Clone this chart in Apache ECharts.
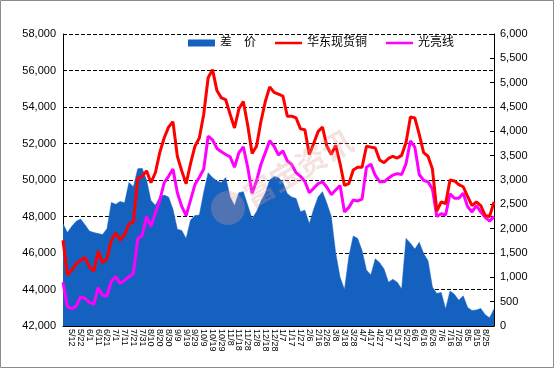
<!DOCTYPE html>
<html><head><meta charset="utf-8">
<script src="https://cdn.jsdelivr.net/npm/echarts@6/dist/echarts.min.js"></script>
<style>html,body{margin:0;padding:0;background:#fff}#c{width:555px;height:369px}</style>
</head><body><div id="c"></div>
<script>
const categories = ['5/2','5/7','5/12','5/17','5/22','5/27','6/1','6/6','6/11','6/16',
 '6/21','6/26','7/1','7/6','7/11','7/16','7/21','7/26','7/31','8/5',
 '8/10','8/15','8/20','8/25','8/30','9/4','9/9','9/14','9/19','9/24',
 '9/29','10/4','10/9','10/14','10/19','10/24','10/29','11/3','11/8','11/13',
 '11/18','11/23','11/28','12/3','12/8','12/13','12/18','12/23','12/28','1/2',
 '1/7','1/12','1/17','1/22','1/27','2/1','2/6','2/11','2/16','2/21',
 '2/26','3/3','3/8','3/13','3/18','3/23','3/28','4/2','4/7','4/12',
 '4/17','4/22','4/27','5/2','5/7','5/12','5/17','5/22','5/27','6/1',
 '6/6','6/11','6/16','6/21','6/26','7/1','7/6','7/11','7/16','7/21',
 '7/26','7/31','8/5','8/10','8/15','8/20','8/25','8/30','9/4'];

const spread = [2100,1920,2050,2150,2200,2080,1950,1920,1900,1880,
 2000,2540,2500,2560,2530,2950,2860,3230,3240,3000,
 2580,2480,2650,2690,2650,2400,1990,1960,1800,2180,
 2270,2280,2750,3150,3050,2980,2950,3050,2650,2470,
 2740,2760,2480,2210,2350,2560,2730,3000,3070,3050,
 2950,2720,2650,2620,2350,2380,2100,2400,2650,2760,
 2520,2250,1500,1000,750,1430,1850,1800,1550,1150,
 1050,1380,1300,1170,900,960,900,760,1800,1700,
 1580,1720,1490,1340,800,670,690,350,720,650,
 530,620,380,320,330,360,230,170,350];

const copperEast = [46700,44800,45070,45400,45600,45750,45250,45000,46100,45450,
 45700,46700,47100,46700,47000,47600,47700,50100,50200,50500,
 49850,50400,51500,52300,52900,53200,51300,50500,49800,50900,
 51850,52300,53600,55600,56050,54900,54500,54400,53600,52850,
 53900,54300,53000,51450,51850,53200,54300,55100,54800,54700,
 54600,53500,53500,53400,52800,52750,51400,52000,52650,52900,
 51850,51400,51900,50900,49700,49800,50550,50700,50700,51850,
 51800,51750,51100,50950,51180,51300,51200,51350,52050,53450,
 53400,52500,51500,51300,50600,48300,48800,48700,50000,49950,
 49750,49630,49100,48600,48800,48600,48050,48000,48800];

const brightWire = [44400,43050,42950,43100,43580,43520,43300,43180,44100,43680,
 43650,44450,44700,44340,44500,44700,44880,46800,46950,48000,
 47450,48200,48880,49850,50200,50600,49300,48550,48050,48900,
 49750,50150,50600,52400,52200,51730,51550,51400,51270,50700,
 51500,51820,50700,49270,49950,50850,51500,52150,51850,51370,
 51600,51050,50850,50400,50200,49920,49300,49550,49800,49900,
 49600,49200,49450,49700,48250,48500,48900,48850,48950,50700,
 50870,50250,49910,49900,50100,50270,50350,50300,50900,52150,
 51800,50300,49980,49900,49500,48000,48150,48080,49250,49000,
 49000,49270,48540,48250,48600,48250,47950,47750,47990];

const seriesNames = ['差　价', '华东现货铜', '光亮线'];
const leftAxisRange = [42000, 58000, 2000];
const rightAxisRange = [0, 6000, 500];

const FONT = '"Liberation Sans", Arial, "Noto Sans CJK SC", sans-serif';
const LINE_ICON = 'path://M0,0L0.01,0L0.01,0.01Z M0,2.2L27,2.2L27,4.8L0,4.8Z M26.99,7L27,7L27,6.99Z';
const chart = echarts.init(document.getElementById('c'), null, {renderer: 'canvas'});
chart.setOption({
  animation: false,
  backgroundColor: '#fff',
  textStyle: {fontFamily: FONT, color: '#000'},
  grid: {left: 63, right: 61, top: 34, bottom: 43},
  legend: {
    left: 183, top: 32, itemWidth: 27, itemHeight: 7, itemGap: 19,
    textStyle: {fontSize: 12, color: '#000', fontFamily: FONT},
    data: [{name: seriesNames[0], icon: 'rect'},
           {name: seriesNames[1], icon: LINE_ICON},
           {name: seriesNames[2], icon: LINE_ICON}]
  },
  xAxis: {
    type: 'category', data: categories, boundaryGap: false,
    axisLine: {lineStyle: {color: '#000', width: 1}},
    axisTick: {show: true, inside: true, length: 4, interval: 1, lineStyle: {color: '#000'}},
    axisLabel: {interval: 1, rotate: -90, fontSize: 9, color: '#000', margin: 3, fontFamily: FONT}
  },
  yAxis: [{
    type: 'value', min: leftAxisRange[0], max: leftAxisRange[1], interval: leftAxisRange[2],
    axisLine: {show: true, lineStyle: {color: '#000'}},
    axisTick: {show: true, inside: true, length: 4, lineStyle: {color: '#000'}},
    axisLabel: {fontSize: 11, color: '#000', margin: 7, fontFamily: FONT},
    splitLine: {show: true, lineStyle: {color: '#000', type: [4, 2], width: 1}}
  }, {
    type: 'value', min: rightAxisRange[0], max: rightAxisRange[1], interval: rightAxisRange[2],
    axisLine: {show: true, lineStyle: {color: '#000'}},
    axisTick: {show: true, inside: true, length: 4, lineStyle: {color: '#000'}},
    axisLabel: {fontSize: 11, color: '#000', margin: 6, fontFamily: FONT},
    splitLine: {show: false}
  }],
  graphic: [
    {type: 'rect', z: 100, silent: true, shape: {x: 0.5, y: 0.5, width: 553, height: 367},
     style: {fill: 'none', stroke: '#8c8c8c', lineWidth: 1}},
    {type: 'circle', z: 90, silent: true, shape: {cx: 228, cy: 208, r: 17},
     style: {fill: 'rgba(215,160,150,0.30)'}},
    {type: 'text', z: 90, silent: true, x: 298, y: 168, rotation: Math.PI / 6,
     style: {text: '富宝资讯', fontSize: 30, fontWeight: 'bold', fontFamily: '"Noto Sans CJK SC"',
       fill: 'rgba(215,160,150,0.30)', align: 'center', verticalAlign: 'middle'}}
  ],
  series: [{
    name: seriesNames[0], type: 'line', yAxisIndex: 1, data: spread,
    symbol: 'none', lineStyle: {width: 0.5, color: '#1561C0'},
    itemStyle: {color: '#1561C0'},
    areaStyle: {color: '#1561C0', opacity: 1}, z: 1
  }, {
    name: seriesNames[1], type: 'line', yAxisIndex: 0, data: copperEast,
    symbol: 'none', lineStyle: {width: 3, color: '#FF0000'}, itemStyle: {color: '#FF0000'}, z: 3
  }, {
    name: seriesNames[2], type: 'line', yAxisIndex: 0, data: brightWire,
    symbol: 'none', lineStyle: {width: 3, color: '#FF00FF'}, itemStyle: {color: '#FF00FF'}, z: 2
  }]
});
</script></body></html>
